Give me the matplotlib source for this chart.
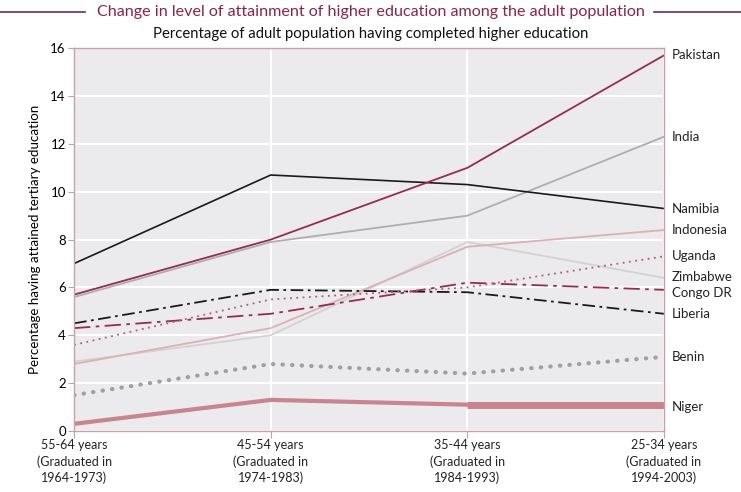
import numpy as np
import matplotlib
matplotlib.use('Agg')
import matplotlib.pyplot as plt
from matplotlib.lines import Line2D

plt.rcParams['font.family'] = ['Lato', 'DejaVu Sans']

groups = ['55-64 years\n(Graduated in\n1964-1973)', '45-54 years\n(Graduated in\n1974-1983)',
          '35-44 years\n(Graduated in\n1984-1993)', '25-34 years\n(Graduated in\n1994-2003)']

pakistan = [5.7, 8.0, 11.0, 15.7]
india = [5.6, 7.9, 9.0, 12.3]
namibia = [7.0, 10.7, 10.3, 9.3]
indonesia = [2.8, 4.3, 7.7, 8.4]
uganda = [3.6, 5.5, 6.0, 7.3]
zimbabwe = [2.9, 4.0, 7.9, 6.4]
congo = [4.3, 4.9, 6.2, 5.9]
liberia = [4.5, 5.9, 5.8, 4.9]
benin = [1.5, 2.8, 2.4, 3.1]
niger = [0.3, 1.3, 1.1, 1.1]

x = np.arange(len(groups))
edge = '#c8a0a8'
maroon = '#9a2a50'

fig = plt.figure(figsize=(7.41, 4.92), dpi=100)
ax = fig.add_axes([0.1, 0.124, 0.796, 0.778])
ax.set_facecolor('#ebeaed')

ax.plot(x, niger, color='#c9848e', lw=3, solid_capstyle='butt')
ax.plot(x[2:], niger[2:], color='#c9848e', lw=5, solid_capstyle='butt')
ax.plot(x, benin, color='#a0a0a0', lw=3, linestyle=(0, (0.1, 2.2)), dash_capstyle='round')
ax.plot(x, zimbabwe, color='#d2d2d4', lw=1.3)
ax.plot(x, indonesia, color='#dcb0b6', lw=1.3)
ax.plot(x, liberia, color='#1a1a1a', lw=1.3, linestyle=(0, (7, 2.5, 1.5, 2.5)))
ax.plot(x, congo, color=maroon, lw=1.3, linestyle=(0, (9, 3, 2, 3)))
ax.plot(x, uganda, color='#b05a78', lw=1.3, linestyle=(0, (1, 2.5)))
ax.plot(x, india, color='#aeaeae', lw=1.3)
ax.plot(x, namibia, color='#1a1a1a', lw=1.2)
ax.plot(x, pakistan, color=maroon, lw=1.3)

labels = ['Pakistan', 'India', 'Namibia', 'Indonesia', 'Uganda', 'Zimbabwe',
          'Congo DR', 'Liberia', 'Benin', 'Niger']
ends = [pakistan[-1], india[-1], namibia[-1], indonesia[-1], uganda[-1],
        zimbabwe[-1], congo[-1], liberia[-1], benin[-1], niger[-1]]
offsets = [0, 0, 0, 0, 0, 0.05, -0.15, 0, 0, -0.1]
for lab, v, o in zip(labels, ends, offsets):
    ax.text(3.04, v + o, lab, fontsize=9.5, va='center', ha='left', color='#222222')

ax.set_xlim(0, 3)
ax.set_ylim(0, 16)
ax.set_yticks(np.arange(0, 17, 2))
ax.set_xticks(x)
ax.set_xticklabels(groups, fontsize=9, linespacing=1.35)
ax.tick_params(axis='y', labelsize=9.5, color=edge, length=4, pad=2)
ax.tick_params(axis='x', color=edge, length=5, pad=1)
ax.grid(True, color='white', lw=1.5)
ax.set_axisbelow(True)
for s in ax.spines.values():
    s.set_color(edge)
    s.set_linewidth(1)
ax.set_ylabel('Percentage having attained tertiary education', fontsize=9.6, labelpad=7)
for c in ax.get_xticklabels():
    c.set_color('#222222')

fig.text(0.5, 0.975, 'Change in level of attainment of higher education among the adult population',
         ha='center', va='center', fontsize=11.6, color='#8a2448')
fig.add_artist(Line2D([0.0, 0.115], [0.975, 0.975], color='#7a2a48', lw=1.2))
fig.add_artist(Line2D([0.883, 1.0], [0.975, 0.975], color='#7a2a48', lw=1.2))
fig.text(0.5, 0.931, 'Percentage of adult population having completed higher education',
         ha='center', va='center', fontsize=10.7, color='#111111')

fig.savefig('out.png', dpi=100)
